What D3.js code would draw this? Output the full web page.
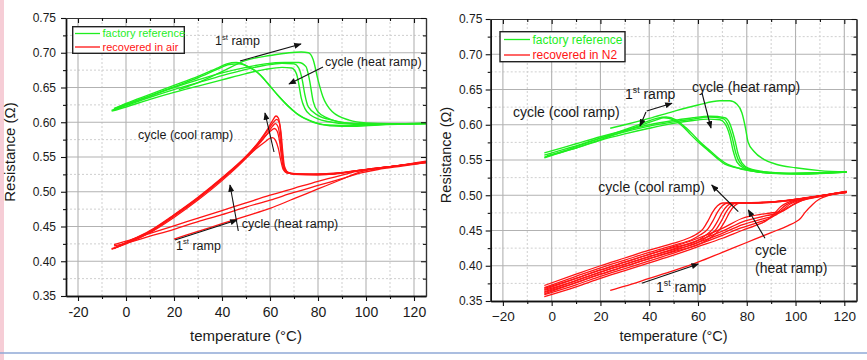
<!DOCTYPE html>
<html><head><meta charset="utf-8">
<script src="https://cdn.jsdelivr.net/npm/d3@7"></script>
<style>
body{margin:0;background:#fff;}
svg{display:block;font-family:"Liberation Sans",Arial,sans-serif;}
</style></head><body>
<svg id="chart" width="867" height="360"></svg>
<script>
// ---------- tick labels ----------
const xTicks = [-20, 0, 20, 40, 60, 80, 100, 120];
const xMinorTicks = [-10, 10, 30, 50, 70, 90, 110];
const yTicks = [0.35, 0.40, 0.45, 0.50, 0.55, 0.60, 0.65, 0.70, 0.75];
const yMinorTicks = [0.375, 0.425, 0.475, 0.525, 0.575, 0.625, 0.675, 0.725];
const xDomain = [-25, 125];
const yDomain = [0.35, 0.75];
const legendLeft = ["factory reference", "recovered in air"];
const legendRight = ["factory reference", "recovered in N2"];

// ---------- LEFT panel: factory reference (green) ----------
const lgFirst = [[22,0.647],[30,0.657],[40,0.673],[50,0.689],[60,0.696],[68,0.700],[73,0.701],[76,0.700],[78,0.690],[80,0.661],[82,0.637],[86,0.615],[93,0.603],[100,0.599],[110,0.598],[125,0.598]];
const lgHeat1 = [[-6,0.616],[0,0.622],[10,0.633],[20,0.643],[30,0.652],[40,0.661],[50,0.670],[58,0.676],[65,0.679],[69,0.678],[71,0.670],[72,0.655],[73,0.635],[74.5,0.620],[77,0.610],[84,0.601],[95,0.597],[105,0.597],[125,0.598]];
const lgHeat2 = [[-5,0.618],[0,0.624],[10,0.636],[20,0.647],[30,0.657],[40,0.667],[50,0.676],[58,0.682],[65,0.685],[70,0.684],[72,0.678],[73.5,0.660],[74.5,0.640],[76,0.622],[80,0.610],[86,0.603],[95,0.598],[110,0.598],[125,0.598]];
const lgHeat3 = [[-5,0.620],[0,0.626],[10,0.638],[20,0.650],[30,0.661],[40,0.671],[50,0.679],[58,0.684],[66,0.686],[72,0.686],[75,0.680],[76.5,0.660],[78,0.630],[80,0.615],[84,0.606],[92,0.599],[100,0.598],[125,0.598]];
const lgCool1 = [[-6,0.617],[0,0.625],[10,0.638],[20,0.651],[30,0.664],[38,0.676],[43,0.683],[47,0.684],[52,0.678],[56,0.668],[60,0.652],[64,0.636],[68,0.622],[72,0.610],[78,0.600],[85,0.595],[95,0.594],[105,0.596],[125,0.598]];
const lgCool2 = [[-5,0.619],[0,0.627],[10,0.640],[20,0.653],[30,0.666],[38,0.678],[42,0.684],[46,0.686],[51,0.680],[55,0.671],[59,0.656],[63,0.640],[67,0.625],[71,0.613],[77,0.602],[84,0.596],[95,0.595],[108,0.597],[125,0.599]];

// ---------- LEFT panel: recovered in air (red) ----------
const lrFirst = [[20,0.432],[30,0.443],[40,0.454],[50,0.465],[60,0.476],[70,0.490],[80,0.504],[90,0.518],[97,0.528],[102,0.532],[110,0.536],[125,0.542]];
const lrHeat1 = [[-5,0.424],[0,0.429],[10,0.440],[20,0.451],[30,0.462],[40,0.473],[50,0.484],[60,0.495],[70,0.505],[80,0.515],[90,0.524],[97,0.530],[105,0.534],[115,0.538],[125,0.543]];
const lrHeat2 = [[-5,0.422],[0,0.426],[10,0.436],[20,0.446],[30,0.457],[40,0.467],[50,0.478],[60,0.488],[70,0.499],[80,0.509],[90,0.519],[98,0.527],[105,0.532],[115,0.537],[125,0.542]];
const lrCool1 = [[-6,0.417],[0,0.426],[10,0.442],[20,0.465],[30,0.490],[40,0.518],[50,0.550],[56,0.575],[59,0.590],[61,0.602],[62.5,0.609],[63.5,0.606],[64.3,0.590],[65,0.560],[65.7,0.538],[67,0.529],[70,0.525],[80,0.524],[90,0.527],[100,0.532],[110,0.536],[125,0.543]];
const lrCool2 = [[-5,0.419],[0,0.427],[10,0.444],[20,0.467],[30,0.492],[40,0.520],[50,0.551],[56,0.574],[59,0.588],[61,0.598],[62.8,0.604],[63.8,0.600],[64.6,0.585],[65.3,0.558],[66,0.537],[67.5,0.528],[71,0.526],[82,0.525],[92,0.528],[102,0.533],[112,0.537],[125,0.544]];
const lrCool3 = [[-6,0.418],[0,0.425],[10,0.441],[20,0.463],[30,0.488],[40,0.516],[50,0.548],[56,0.571],[59,0.584],[61,0.594],[62.2,0.598],[63.3,0.594],[64.2,0.578],[65,0.553],[65.8,0.535],[67,0.528],[70,0.526],[78,0.525],[88,0.527],[98,0.531],[110,0.536],[125,0.543]];
const lrCool4 = [[-5,0.418],[0,0.426],[10,0.443],[20,0.466],[30,0.491],[40,0.519],[50,0.550],[55,0.568],[58,0.580],[60.5,0.588],[61.8,0.591],[63,0.587],[64,0.572],[64.8,0.550],[65.6,0.534],[67,0.527],[72,0.525],[84,0.525],[95,0.530],[105,0.534],[125,0.542]];
const lrCool5 = [[-4,0.420],[0,0.427],[10,0.443],[20,0.466],[30,0.491],[40,0.519],[50,0.549],[55,0.564],[58,0.572],[60,0.577],[61,0.578],[62.3,0.574],[63.5,0.562],[64.5,0.545],[65.5,0.532],[67,0.527],[72,0.525],[85,0.526],[96,0.530],[108,0.535],[125,0.543]];

// ---------- RIGHT panel: factory reference (green) ----------
const rgFirst = [[24,0.595],[30,0.600],[40,0.609],[50,0.619],[60,0.628],[69,0.634],[73,0.634],[76,0.629],[78,0.617],[79.5,0.595],[80.5,0.576],[83,0.562],[87,0.551],[92,0.544],[100,0.539],[110,0.535],[121,0.533]];
const rgHeat1 = [[-3,0.554],[5,0.562],[10,0.567],[20,0.578],[30,0.587],[40,0.595],[50,0.602],[58,0.606],[64,0.608],[69,0.607],[71,0.602],[73,0.585],[74.5,0.562],[76,0.547],[79,0.538],[85,0.533],[95,0.531],[110,0.532],[121,0.533]];
const rgHeat2 = [[-3,0.557],[5,0.565],[10,0.570],[20,0.581],[30,0.590],[40,0.598],[50,0.604],[58,0.608],[64,0.611],[70,0.609],[72,0.602],[74,0.582],[75.5,0.560],[77,0.547],[80,0.538],[86,0.533],[96,0.531],[110,0.532],[121,0.533]];
const rgHeat3 = [[-3,0.560],[5,0.568],[10,0.573],[20,0.583],[30,0.592],[40,0.600],[50,0.606],[58,0.610],[65,0.612],[71,0.610],[73,0.602],[75,0.580],[76.5,0.558],[78,0.546],[81,0.538],[88,0.533],[98,0.531],[121,0.533]];
const rgCool1 = [[-3,0.553],[5,0.562],[10,0.567],[20,0.579],[30,0.591],[38,0.601],[43,0.607],[46,0.610],[50,0.607],[54,0.597],[57,0.586],[60,0.576],[64,0.564],[68,0.552],[71,0.544],[76,0.539],[81,0.535],[90,0.531],[100,0.530],[110,0.531],[121,0.533]];
const rgCool2 = [[-2,0.556],[5,0.563],[10,0.569],[20,0.581],[30,0.593],[38,0.603],[43,0.609],[47,0.611],[51,0.607],[55,0.596],[58,0.586],[61,0.575],[65,0.563],[69,0.551],[72,0.544],[77,0.538],[83,0.534],[92,0.531],[102,0.530],[121,0.533]];

// ---------- RIGHT panel: recovered in N2 (red) ----------
const rrFirst = [[24,0.365],[30,0.371],[40,0.382],[50,0.393],[60,0.405],[70,0.419],[80,0.433],[90,0.447],[97,0.457],[100,0.462],[102,0.467],[104,0.476],[107,0.487],[110,0.495],[114,0.500],[121,0.505]];
const rrHeat1 = [[-3,0.356],[10,0.370],[20,0.382],[30,0.393],[40,0.404],[50,0.415],[60,0.427],[70,0.439],[78,0.450],[85,0.459],[88,0.464],[91,0.473],[94,0.484],[97,0.490],[103,0.495],[112,0.500],[121,0.504]];
const rrHeat2 = [[-3,0.359],[10,0.373],[20,0.385],[30,0.396],[40,0.407],[50,0.418],[60,0.430],[70,0.443],[78,0.454],[86,0.463],[90,0.468],[93,0.477],[96,0.486],[99,0.491],[105,0.496],[113,0.501],[121,0.505]];
const rrHeat3 = [[-3,0.362],[10,0.376],[20,0.388],[30,0.399],[40,0.410],[50,0.421],[60,0.433],[70,0.446],[78,0.458],[87,0.467],[92,0.472],[95,0.480],[98,0.488],[101,0.492],[107,0.497],[115,0.502],[121,0.505]];
const rrHeat4 = [[-3,0.365],[10,0.379],[20,0.391],[30,0.402],[40,0.413],[50,0.424],[60,0.436],[70,0.449],[78,0.462],[88,0.471],[94,0.476],[97,0.483],[100,0.489],[103,0.493],[110,0.498],[121,0.505]];
const rrHeat5 = [[-3,0.368],[10,0.382],[20,0.394],[30,0.405],[40,0.416],[50,0.427],[60,0.439],[70,0.453],[78,0.467],[88,0.474],[95,0.478],[98,0.484],[101,0.490],[104,0.494],[111,0.499],[121,0.506]];
const rrCool1 = [[-3,0.372],[10,0.388],[20,0.400],[30,0.411],[40,0.422],[50,0.432],[56,0.439],[59,0.444],[62,0.452],[64,0.463],[66,0.476],[68,0.485],[70,0.489],[74,0.489],[85,0.490],[95,0.492],[105,0.497],[121,0.505]];
const rrCool2 = [[-3,0.369],[10,0.385],[20,0.397],[30,0.408],[40,0.419],[50,0.429],[58,0.438],[61,0.444],[64,0.452],[66,0.463],[68,0.476],[70,0.485],[72,0.489],[77,0.489],[88,0.490],[98,0.493],[108,0.498],[121,0.505]];
const rrCool3 = [[-3,0.366],[10,0.382],[20,0.394],[30,0.405],[40,0.416],[50,0.426],[60,0.436],[63,0.443],[66,0.452],[68,0.463],[70,0.476],[72,0.485],[74,0.489],[79,0.489],[90,0.490],[100,0.494],[110,0.499],[121,0.504]];
const rrCool4 = [[-3,0.363],[10,0.379],[20,0.391],[30,0.402],[40,0.413],[50,0.423],[60,0.433],[64.5,0.443],[67.5,0.452],[69.5,0.463],[71.5,0.476],[73.5,0.485],[75.5,0.489],[81,0.489],[92,0.491],[102,0.495],[121,0.504]];
const rrCool5 = [[-3,0.360],[10,0.376],[20,0.388],[30,0.399],[40,0.410],[50,0.420],[60,0.430],[66,0.442],[69,0.452],[71,0.463],[73,0.476],[75,0.485],[77,0.489],[83,0.489],[94,0.491],[104,0.496],[121,0.504]];

// ---------- styling ----------
const GREEN = "#1fee1f";
const RED = "#ff1414";

const svg = d3.select("#chart");

// decorative slide artefacts
svg.append("rect").attr("x",0).attr("y",0).attr("width",4).attr("height",360).attr("fill","#f2b8c4").attr("opacity",0.7);
svg.append("line").attr("x1",0).attr("x2",867).attr("y1",353).attr("y2",353).attr("stroke","#8fa8d6").attr("stroke-width",1.6);

const defs = svg.append("defs");
defs.append("marker").attr("id","ah").attr("viewBox","0 0 10 8").attr("refX",9).attr("refY",4)
  .attr("markerWidth",8).attr("markerHeight",6).attr("markerUnits","userSpaceOnUse").attr("orient","auto")
  .append("path").attr("d","M0,0L10,4L0,8Z").attr("fill","#111");

const panels = [
  {
    id: "L", xr: [66, 426], yr: [296, 18], xFmt: d => String(d),
    green: [lgFirst, lgHeat1, lgHeat2, lgHeat3, lgCool1, lgCool2],
    red: [lrFirst, lrHeat1, lrHeat2, lrCool1, lrCool2, lrCool3, lrCool4, lrCool5],
    legend: legendLeft, legBox: [72.7, 26.7, 111.6, 26.6], legFont: 11, legLine: [75, 100], legRows: [33.5, 47],
    xFont: 14, yFont: 12, xLabY: 317, yLabGap: 10, titleFont: 15, yTitleX: 10, yTitleY: 152, xTitleY: 340.5,
    ann: [
      {t: "1st", x: 215, y: 45, fs: 12.5}, {t: "cycle (heat ramp)", x: 325, y: 66, fs: 12.5},
      {t: "cycle (cool ramp)", x: 138, y: 139, fs: 12.5}, {t: "cycle (heat ramp)", x: 241.7, y: 227.5, fs: 12.5},
      {t: "1st", x: 176, y: 249.5, fs: 12.5}
    ],
    arrows: [[240,61,301,44],[323,67,289,84],[274,152,265,113],[238.3,231,230,185],[175,240,237,220]]
  },
  {
    id: "R", xr: [490.7, 856.5], yr: [301, 19], xFmt: d => (d < 0 ? "\u2212" + (-d) : String(d)),
    green: [rgFirst, rgHeat1, rgHeat2, rgHeat3, rgCool1, rgCool2],
    red: [rrFirst, rrHeat1, rrHeat2, rrHeat3, rrHeat4, rrHeat5, rrCool1, rrCool2, rrCool3, rrCool4, rrCool5],
    legend: legendRight, legBox: [500, 31.7, 125, 30], legFont: 12, legLine: [504, 530], legRows: [39.5, 55],
    xFont: 13.5, yFont: 12, xLabY: 321, yLabGap: 8.4, titleFont: 14.5, yTitleX: 446, yTitleY: 155, xTitleY: 341,
    ann: [
      {t: "1st", x: 625, y: 98.5, fs: 14}, {t: "cycle (cool ramp)", x: 513, y: 116.5, fs: 14},
      {t: "cycle (heat ramp)", x: 692, y: 91.5, fs: 14}, {t: "cycle (cool ramp)", x: 598.3, y: 192, fs: 14},
      {t: "cycle", x: 755, y: 255, fs: 14}, {t: "(heat ramp)", x: 755, y: 272.5, fs: 14},
      {t: "1st", x: 656, y: 292, fs: 14}
    ],
    arrows: [[646.7,111,672,103.3],[646,112,640,126],[702,93,711,128],[738.3,211.7,711.7,185],[765,238.3,748.3,210],[641.7,283.3,698.3,264]]
  }
];

panels.forEach(p => {
  const x = d3.scaleLinear().domain(xDomain).range(p.xr);
  const y = d3.scaleLinear().domain(yDomain).range(p.yr);
  const g = svg.append("g");
  const [L, R] = p.xr, [B, T] = p.yr;

  // grid
  const grid = g.append("g");
  grid.selectAll(".vmin").data(xMinorTicks).join("line").attr("x1",d=>x(d)).attr("x2",d=>x(d)).attr("y1",T).attr("y2",B)
    .attr("stroke","#cfcfcf").attr("stroke-width",1).attr("stroke-dasharray","2,2");
  grid.selectAll(".hmin").data(yMinorTicks).join("line").attr("y1",d=>y(d)).attr("y2",d=>y(d)).attr("x1",L).attr("x2",R)
    .attr("stroke","#cfcfcf").attr("stroke-width",1).attr("stroke-dasharray","2,2");
  grid.selectAll(".vmaj").data(xTicks).join("line").attr("x1",d=>x(d)).attr("x2",d=>x(d)).attr("y1",T).attr("y2",B)
    .attr("stroke","#b2b2b2").attr("stroke-width",1.1);
  grid.selectAll(".hmaj").data(yTicks.slice(1,-1)).join("line").attr("y1",d=>y(d)).attr("y2",d=>y(d)).attr("x1",L).attr("x2",R)
    .attr("stroke","#b2b2b2").attr("stroke-width",1.1);

  // curves
  const clipId = "clip" + p.id;
  defs.append("clipPath").attr("id", clipId).append("rect").attr("x",L).attr("y",T).attr("width",R-L).attr("height",B-T);
  const line = d3.line().x(d=>x(d[0])).y(d=>y(d[1])).curve(d3.curveMonotoneX);
  const cg = g.append("g").attr("clip-path", `url(#${clipId})`);
  cg.selectAll(".r").data(p.red).join("path").attr("d", line).attr("fill","none").attr("stroke",RED).attr("stroke-width",1.3);
  cg.selectAll(".gr").data(p.green).join("path").attr("d", line).attr("fill","none").attr("stroke",GREEN).attr("stroke-width",1.4);

  // axes
  const axStyle = a => { a.selectAll("path.domain").attr("stroke","#111").attr("stroke-width",1.4); a.selectAll(".tick line").attr("stroke","#111").attr("stroke-width",1.1); };
  const bx = g.append("g").attr("transform",`translate(0,${B})`).call(d3.axisBottom(x).tickValues(xTicks).tickSize(5).tickPadding(5).tickFormat(p.xFmt).tickSizeOuter(0));
  bx.selectAll("text").attr("font-size",p.xFont).attr("fill","#1a1a1a").attr("font-family","Liberation Sans, Arial, sans-serif").attr("y", p.xLabY - B).attr("dy",0);
  axStyle(bx);
  const bxm = g.append("g").attr("transform",`translate(0,${B})`).call(d3.axisBottom(x).tickValues(xMinorTicks).tickSize(3).tickFormat("").tickSizeOuter(0));
  axStyle(bxm);
  const ly = g.append("g").attr("transform",`translate(${L},0)`).call(d3.axisLeft(y).tickValues(yTicks).tickSize(5).tickPadding(p.yLabGap-5).tickFormat(d3.format(".2f")).tickSizeOuter(0));
  ly.selectAll("text").attr("font-size",p.yFont).attr("fill","#1a1a1a").attr("font-family","Liberation Sans, Arial, sans-serif");
  axStyle(ly);
  const lym = g.append("g").attr("transform",`translate(${L},0)`).call(d3.axisLeft(y).tickValues(yMinorTicks).tickSize(3).tickFormat("").tickSizeOuter(0));
  axStyle(lym);
  // mirror axes (inward ticks)
  const tx = g.append("g").attr("transform",`translate(0,${T})`).call(d3.axisBottom(x).tickValues(xTicks).tickSize(5).tickFormat("").tickSizeOuter(0));
  axStyle(tx);
  const txm = g.append("g").attr("transform",`translate(0,${T})`).call(d3.axisBottom(x).tickValues(xMinorTicks).tickSize(3).tickFormat("").tickSizeOuter(0));
  axStyle(txm);
  const ry = g.append("g").attr("transform",`translate(${R},0)`).call(d3.axisLeft(y).tickValues(yTicks).tickSize(-5).tickFormat("").tickSizeOuter(0));
  ry.selectAll(".tick line").attr("x2",-5);
  axStyle(ry);
  const rym = g.append("g").attr("transform",`translate(${R},0)`).call(d3.axisLeft(y).tickValues(yMinorTicks).tickSize(-3).tickFormat("").tickSizeOuter(0));
  rym.selectAll(".tick line").attr("x2",-3);
  axStyle(rym);
  [tx, txm, ry, rym].forEach(a => a.selectAll("path.domain").attr("stroke","#333").attr("stroke-width",1.2));

  // titles
  g.append("text").attr("x",(L+R)/2).attr("y",p.xTitleY).attr("text-anchor","middle").attr("font-size",p.titleFont).attr("fill","#1a1a1a").text("temperature (°C)");
  g.append("text").attr("transform",`translate(${p.yTitleX},${p.yTitleY}) rotate(-90)`).attr("dy","0.35em").attr("text-anchor","middle")
    .attr("font-size",p.titleFont).attr("fill","#1a1a1a").text("Resistance (Ω)");

  // legend
  const lb = p.legBox;
  g.append("rect").attr("x",lb[0]).attr("y",lb[1]).attr("width",lb[2]).attr("height",lb[3]).attr("fill","#fff").attr("stroke","#222").attr("stroke-width",1.4);
  const legColors = [GREEN, RED];
  p.legend.forEach((lab, i) => {
    g.append("line").attr("x1",p.legLine[0]).attr("x2",p.legLine[1]).attr("y1",p.legRows[i]).attr("y2",p.legRows[i]).attr("stroke",legColors[i]).attr("stroke-width",1.3);
    g.append("text").attr("x",p.legLine[1]+2.5).attr("y",p.legRows[i]).attr("dy","0.35em").attr("font-size",p.legFont).attr("fill",legColors[i]).text(lab);
  });

  // annotations
  p.ann.forEach(a => {
    const t = g.append("text").attr("x",a.x).attr("y",a.y).attr("font-size",a.fs).attr("fill","#1a1a1a");
    if (a.t === "1st") {
      t.append("tspan").text("1");
      t.append("tspan").attr("font-size",a.fs*0.62).attr("dy",-a.fs*0.42).text("st");
      t.append("tspan").attr("dy",a.fs*0.42).text(" ramp");
    } else {
      t.text(a.t);
    }
  });
  p.arrows.forEach(a => {
    g.append("line").attr("x1",a[0]).attr("y1",a[1]).attr("x2",a[2]).attr("y2",a[3]).attr("stroke","#111").attr("stroke-width",1.1).attr("marker-end","url(#ah)");
  });
});
</script>
</body></html>
